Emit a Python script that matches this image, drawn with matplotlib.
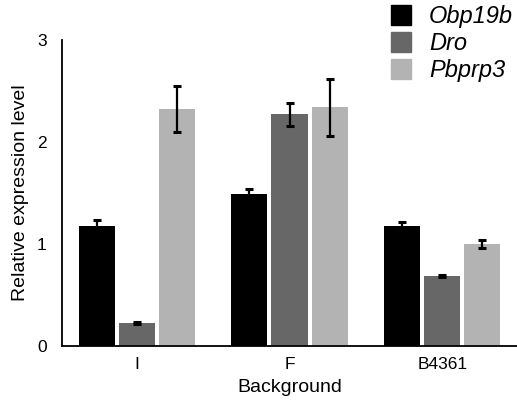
import matplotlib
matplotlib.use("Agg")
import matplotlib.pyplot as plt
import numpy as np
from matplotlib.patches import Rectangle

plt.rcParams['font.family'] = ['Liberation Sans', 'DejaVu Sans']

categories = ["I", "F", "B4361"]
series_names = ["Obp19b", "Dro", "Pbprp3"]
obp19b = [1.18, 1.49, 1.18]
obp19b_err = [0.055, 0.045, 0.035]
dro = [0.23, 2.27, 0.69]
dro_err = [0.01, 0.11, 0.01]
pbprp3 = [2.32, 2.34, 1.00]
pbprp3_err = [0.225, 0.28, 0.042]
colors = ["#000000", "#676767", "#b3b3b3"]

fig = plt.figure(figsize=(5.17, 4.0), dpi=100)
ax = fig.add_axes([0.12, 0.135, 0.88, 0.765])

x = np.arange(len(categories))
slot = 0.263
width = 0.237
values = [obp19b, dro, pbprp3]
errs = [obp19b_err, dro_err, pbprp3_err]
for i, (vals, er, c) in enumerate(zip(values, errs, colors)):
    ax.bar(x + (i - 1) * slot, vals, width, color=c, zorder=2)
    ax.errorbar(x + (i - 1) * slot, vals, yerr=er, fmt='none', ecolor='black',
                elinewidth=1.6, capsize=3.2, capthick=2.2, zorder=3)

ax.set_xlim(-0.49, 2.49)
ax.set_ylim(0, 3)
ax.set_yticks([0, 1, 2, 3])
ax.set_xticks(x)
ax.set_xticklabels(categories)
ax.tick_params(axis='both', length=0, labelsize=12.5)
ax.tick_params(axis='y', pad=11)
ax.tick_params(axis='x', pad=8)
ax.spines['top'].set_visible(False)
ax.spines['right'].set_visible(False)
ax.spines['left'].set_linewidth(1.3)
ax.spines['bottom'].set_linewidth(1.3)
ax.set_ylabel("Relative expression level", fontsize=14, labelpad=6)
ax.set_xlabel("Background", fontsize=14, labelpad=5)

handles = [Rectangle((0, 0), 1, 1, color=c) for c in colors]
fig.legend(handles, series_names, loc='upper left',
           bbox_to_anchor=(391 / 517, 1 - 5 / 400), bbox_transform=fig.transFigure,
           frameon=False, borderpad=0, borderaxespad=0,
           handlelength=0.85, handleheight=0.95, handletextpad=0.75,
           labelspacing=0.15, prop={'size': 17, 'style': 'italic'})

fig.savefig("out.png", dpi=100)
